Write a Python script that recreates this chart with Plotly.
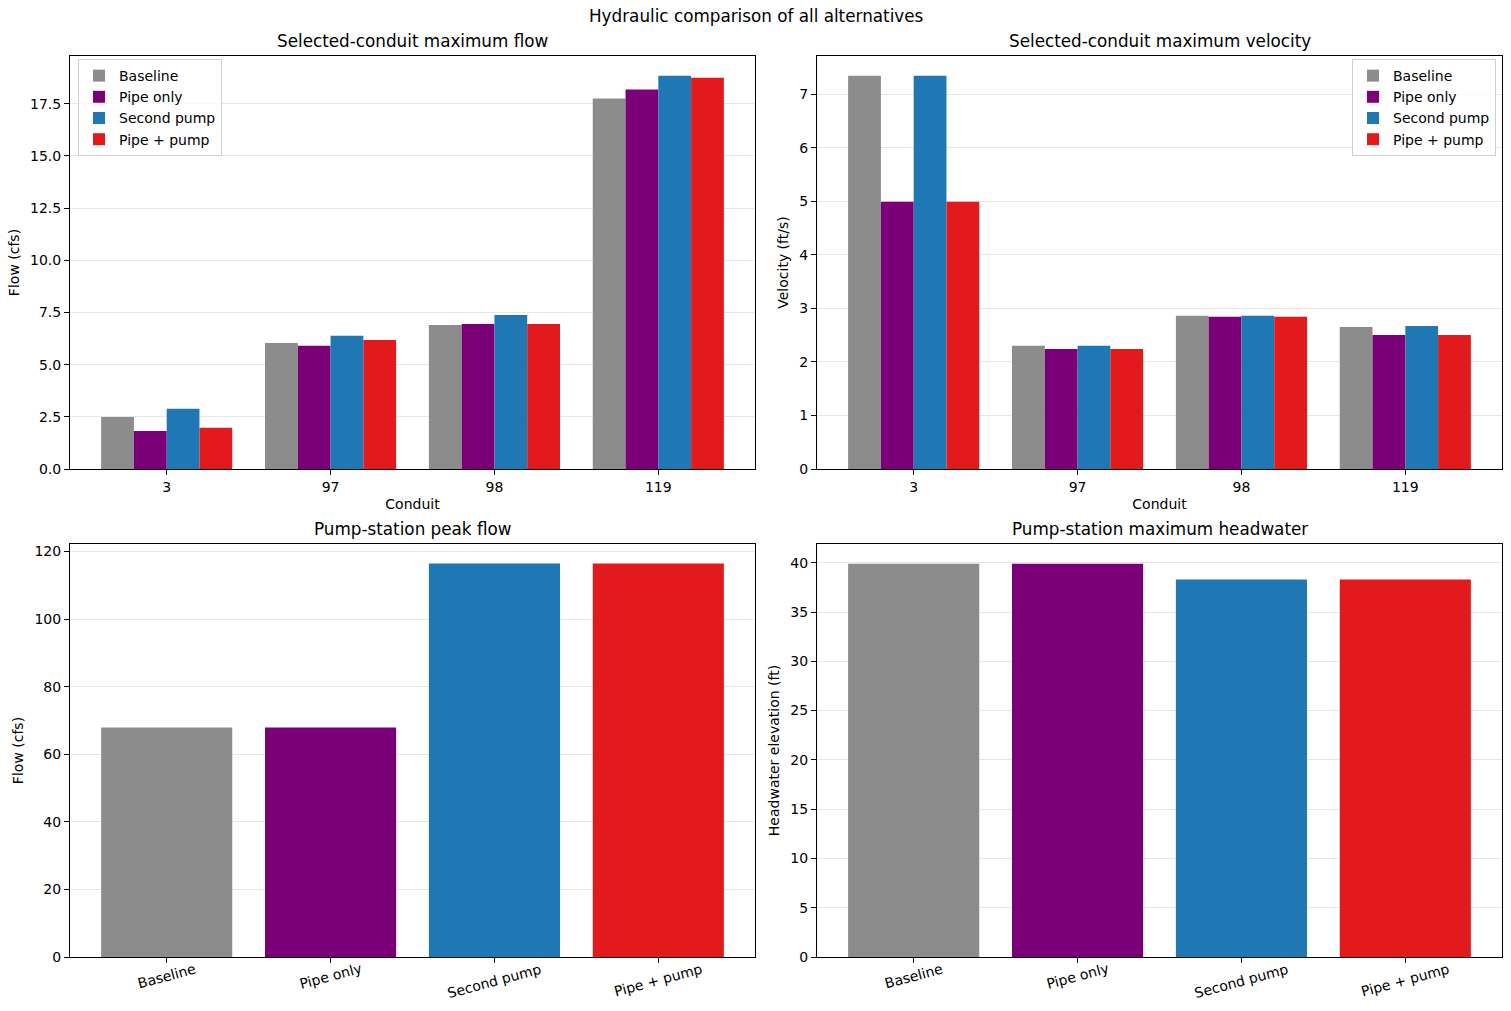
import plotly.graph_objects as go

# ---------------- data ----------------
conduits = ["3", "97", "98", "119"]
alternatives = ["Baseline", "Pipe only", "Second pump", "Pipe + pump"]
colors = ["#8c8c8c", "#7b0077", "#1f77b4", "#e31a1c"]

flow_baseline = [2.49, 6.04, 6.90, 17.74]
flow_pipe_only = [1.82, 5.90, 6.95, 18.17]
flow_second_pump = [2.88, 6.38, 7.38, 18.84]
flow_pipe_pump = [1.97, 6.18, 6.95, 18.74]

vel_baseline = [7.34, 2.30, 2.86, 2.65]
vel_pipe_only = [4.99, 2.24, 2.84, 2.50]
vel_second_pump = [7.34, 2.30, 2.86, 2.67]
vel_pipe_pump = [4.99, 2.24, 2.84, 2.50]

pump_peak_flow = [67.9, 67.9, 116.4, 116.4]
pump_max_headwater = [39.9, 39.9, 38.3, 38.3]

flows = [flow_baseline, flow_pipe_only, flow_second_pump, flow_pipe_pump]
vels = [vel_baseline, vel_pipe_only, vel_second_pump, vel_pipe_pump]

# ---------------- figure ----------------
W, H = 1511, 1011
FONT = "DejaVu Sans, Liberation Sans, sans-serif"
FS = 14
TS = 16.8

fig = go.Figure()

for name, col, ys in zip(alternatives, colors, flows):
    fig.add_trace(go.Bar(x=conduits, y=ys, name=name, marker_color=col,
                         marker_line_width=0, xaxis="x", yaxis="y",
                         legend="legend", legendgroup=name))
for name, col, ys in zip(alternatives, colors, vels):
    fig.add_trace(go.Bar(x=conduits, y=ys, name=name, marker_color=col,
                         marker_line_width=0, xaxis="x2", yaxis="y2",
                         legend="legend2", legendgroup=name))

fig.add_trace(go.Bar(x=alternatives, y=pump_peak_flow, marker_color=colors,
                     marker_line_width=0, width=0.8, showlegend=False,
                     xaxis="x3", yaxis="y3"))
fig.add_trace(go.Bar(x=alternatives, y=pump_max_headwater, marker_color=colors,
                     marker_line_width=0, width=0.8, showlegend=False,
                     xaxis="x4", yaxis="y4"))

# axes domains (pixel-derived)
xl = [70 / W, 755 / W]
xr = [817 / W, 1502 / W]
yt = [1 - 469 / H, 1 - 56 / H]
yb = [1 - 957 / H, 1 - 544 / H]

common_x = dict(type="category", range=[-0.59, 3.59], showline=True, linecolor="black",
                linewidth=1, mirror=True, ticks="outside", ticklen=5, tickcolor="black",
                showgrid=False, tickfont=dict(size=FS, color="black"), zeroline=False,
                automargin=False)
common_y = dict(showline=True, linecolor="black", linewidth=1, mirror=True,
                ticks="outside", ticklen=5, tickcolor="black", showgrid=True,
                gridcolor="rgba(176,176,176,0.3)", gridwidth=1, zeroline=False,
                tickfont=dict(size=FS, color="black"), layer="above traces",
                automargin=False)

fig.update_layout(
    width=W, height=H,
    margin=dict(l=0, r=0, t=0, b=0),
    paper_bgcolor="white", plot_bgcolor="white",
    font=dict(family=FONT, size=FS, color="black"),
    barmode="group", bargap=0.2, bargroupgap=0,
    xaxis=dict(common_x, domain=xl, anchor="y",
               title=dict(text="Conduit", font=dict(size=FS), standoff=5)),
    yaxis=dict(common_y, domain=yt, anchor="x", range=[0, 19.78], dtick=2.5,
               tickformat=".1f", title=dict(text="Flow (cfs)", font=dict(size=FS), standoff=7)),
    xaxis2=dict(common_x, domain=xr, anchor="y2",
                title=dict(text="Conduit", font=dict(size=FS), standoff=5)),
    yaxis2=dict(common_y, domain=yt, anchor="x2", range=[0, 7.71], dtick=1,
                title=dict(text="Velocity (ft/s)", font=dict(size=FS), standoff=7)),
    xaxis3=dict(common_x, domain=xl, anchor="y3", showticklabels=False),
    yaxis3=dict(common_y, domain=yb, anchor="x3", range=[0, 122.2], dtick=20,
                title=dict(text="Flow (cfs)", font=dict(size=FS), standoff=7)),
    xaxis4=dict(common_x, domain=xr, anchor="y4", showticklabels=False),
    yaxis4=dict(common_y, domain=yb, anchor="x4", range=[0, 41.9], dtick=5,
                title=dict(text="Headwater elevation (ft)", font=dict(size=FS), standoff=7)),
    legend=dict(x=78 / W, y=1 - 59 / H, xanchor="left", yanchor="top",
                bgcolor="rgba(255,255,255,0.8)", bordercolor="#d0d0d0", borderwidth=1,
                font=dict(size=FS), tracegroupgap=0),
    legend2=dict(x=1496 / W, y=1 - 59 / H, xanchor="right", yanchor="top",
                 bgcolor="rgba(255,255,255,0.8)", bordercolor="#d0d0d0", borderwidth=1,
                 font=dict(size=FS), tracegroupgap=0),
)

# rotated, centred category labels for the bottom panels
for xa, ya in (("x3", "y3"), ("x4", "y4")):
    for alt in alternatives:
        fig.add_annotation(text=alt, x=alt, y=0, xref=xa, yref=ya,
                           xanchor="center", yanchor="top", yshift=-1,
                           textangle=-15, showarrow=False,
                           font=dict(size=FS, color="black"))

titles = [
    ("Selected-conduit maximum flow", (xl[0] + xl[1]) / 2, yt[1]),
    ("Selected-conduit maximum velocity", (xr[0] + xr[1]) / 2, yt[1]),
    ("Pump-station peak flow", (xl[0] + xl[1]) / 2, yb[1]),
    ("Pump-station maximum headwater", (xr[0] + xr[1]) / 2, yb[1]),
]
for text, x, y in titles:
    fig.add_annotation(text=text, x=x, y=y, xref="paper", yref="paper",
                       xanchor="center", yanchor="bottom", yshift=3,
                       showarrow=False, font=dict(size=TS, color="black"))

fig.add_annotation(text="Hydraulic comparison of all alternatives", x=0.5, y=1 - 16 / H,
                   xref="paper", yref="paper", xanchor="center", yanchor="middle",
                   showarrow=False, font=dict(size=TS, color="black"))

fig.write_html("out.html")
